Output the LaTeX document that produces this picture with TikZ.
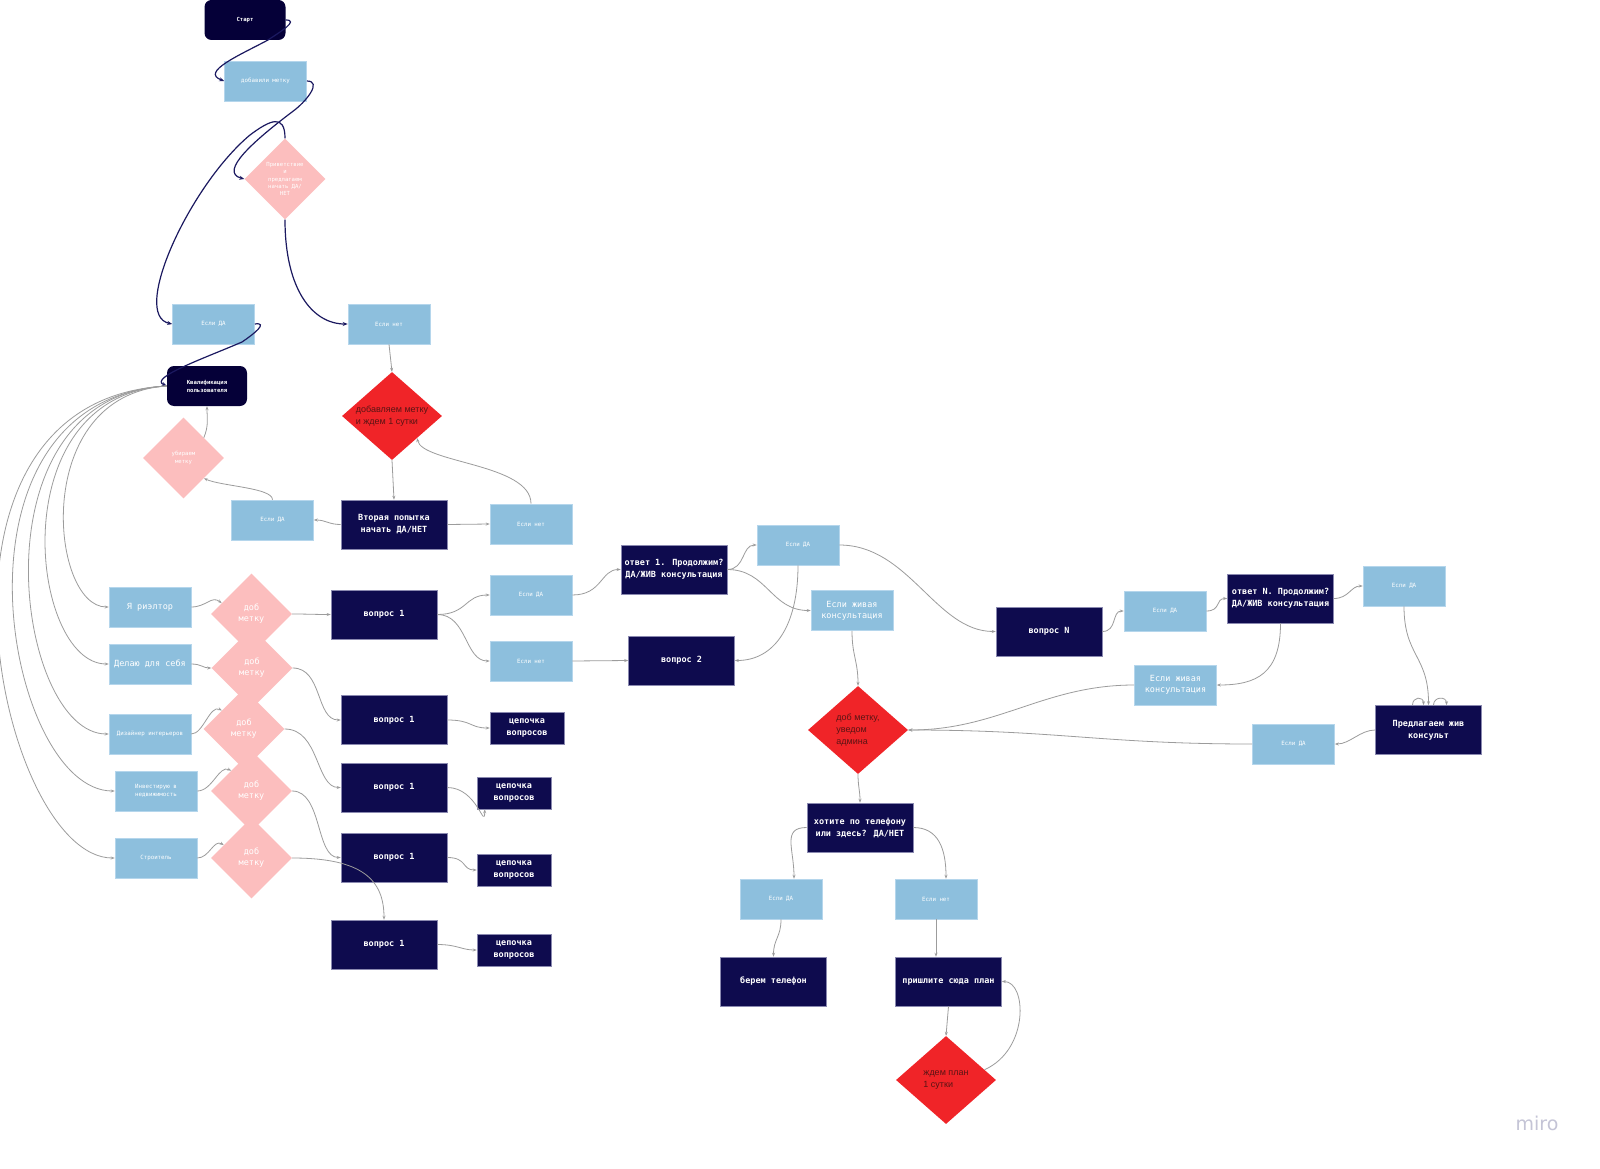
\documentclass[tikz,border=0pt]{standalone}
\usepackage{fontspec}
\newfontfamily\miromono{DejaVu Sans Mono}
\newfontfamily\mirosans{Liberation Sans}
\newfontfamily\logofont{DejaVu Sans}
\usetikzlibrary{shapes.geometric, arrows.meta}

\definecolor{navy}{HTML}{0E0B4E}
\definecolor{navyedge}{HTML}{8A89B0}
\definecolor{ink}{HTML}{050038}
\definecolor{sky}{HTML}{8DBFDD}
\definecolor{skyedge}{HTML}{B5D6EC}
\definecolor{blush}{HTML}{FCBEBE}
\definecolor{alarm}{HTML}{F02428}
\definecolor{redtext}{HTML}{5A1414}
\definecolor{wire}{HTML}{9C9C9C}
\definecolor{rope}{HTML}{1B1960}
\definecolor{logogray}{HTML}{C4C4D6}

\begin{document}
\begin{tikzpicture}[
    x=1pt, y=-1pt,
    darkbox/.style={rectangle, fill=navy, draw=navyedge, line width=0.6pt, text=white,
        font=\miromono\bfseries\fontsize{8.5}{12}\selectfont,
        minimum width=106pt, minimum height=49pt, align=center, inner sep=0pt},
    chainbox/.style={darkbox, minimum width=74pt, minimum height=32pt},
    roundbox/.style={rectangle, rounded corners=7pt, fill=ink, text=white,
        font=\miromono\bfseries\fontsize{5.6}{8}\selectfont,
        minimum width=81pt, minimum height=40pt, align=center, inner sep=0pt},
    skybox/.style={rectangle, fill=sky, draw=skyedge, line width=0.6pt, text=white,
        font=\miromono\fontsize{5.8}{8.5}\selectfont,
        minimum width=82pt, minimum height=40pt, align=center, inner sep=0pt},
    skybig/.style={skybox, font=\miromono\fontsize{8.5}{11}\selectfont},
    pinkdia/.style={diamond, fill=blush, text=white,
        font=\miromono\fontsize{8.5}{11}\selectfont,
        minimum width=81pt, minimum height=81pt, align=center, inner sep=0pt},
    pinksmall/.style={pinkdia, font=\miromono\fontsize{5.6}{7.2}\selectfont},
    reddia/.style={diamond, fill=alarm, text=redtext, shape aspect=1.14,
        font=\mirosans\fontsize{9}{12}\selectfont,
        minimum width=100pt, minimum height=88pt, align=left, inner sep=0pt},
    darkline/.style={-{Stealth[length=5pt,width=4pt]}, draw=rope, line width=1.2pt},
    link/.style={-{Stealth[length=4pt,width=3pt]}, draw=wire, line width=0.8pt}
]
\fill[white] (0,0) rectangle (1600,1169);
\useasboundingbox (0,0) rectangle (1600,1169);

% start block
\node[roundbox] (start) at (245,20) {Старт};
\node[skybox] (addtag) at (265.5,81) {добавили метку};
\node[pinksmall] (greet) at (285,179) {Приветствие\\и\\предлагаем\\начать ДА/\\НЕТ};
\node[skybox] (yes1) at (213.5,324) {Если ДА};
\node[skybox] (no1) at (389,324) {Если нет};
\node[roundbox, minimum width=80pt] (qualify) at (207,386) {Квалификация\\пользователя};
\node[pinksmall] (untag) at (183.5,458) {убираем\\метку};
\node[reddia] (wait1) at (392,416) {добавляем метку\\и ждем 1 сутки};
\node[skybox] (yes2) at (272.5,520) {Если ДА};
\node[darkbox] (retry) at (394,524.5) {Вторая попытка\\начать ДА/НЕТ};
\node[skybox] (no2) at (531,524) {Если нет};

% categories
\node[skybig] (realtor) at (150,607) {Я риэлтор};
\node[skybig] (self) at (150,664) {Делаю для себя};
\node[skybox] (designer) at (150,734) {Дизайнер интерьеров};
\node[skybox] (investor) at (156,791) {Инвестирую в\\недвижимость};
\node[skybox] (builder) at (156,858) {Строитель};
\node[pinkdia] (tag1) at (251.5,614) {доб\\метку};
\node[pinkdia] (tag2) at (252,668) {доб\\метку};
\node[pinkdia] (tag3) at (244,729) {доб\\метку};
\node[pinkdia] (tag4) at (251.5,791) {доб\\метку};
\node[pinkdia] (tag5) at (251.5,858) {доб\\метку};

% questions
\node[darkbox] (qa) at (384,614.5) {вопрос 1};
\node[darkbox] (qb) at (394,720) {вопрос 1};
\node[darkbox] (qc) at (394,787.5) {вопрос 1};
\node[darkbox] (qd) at (394,857.5) {вопрос 1};
\node[darkbox] (qe) at (384,944.5) {вопрос 1};
\node[chainbox] (chaina) at (527,728) {цепочка\\вопросов};
\node[chainbox] (chainb) at (514,793) {цепочка\\вопросов};
\node[chainbox] (chainc) at (514,870) {цепочка\\вопросов};
\node[chainbox] (chaind) at (514,950) {цепочка\\вопросов};
\node[skybox] (yes3) at (531,595) {Если ДА};
\node[skybox] (no3) at (531,661) {Если нет};
\node[darkbox] (ans1) at (674,569.5) {ответ 1. Продолжим?\\ДА/ЖИВ консультация};
\node[darkbox] (q2) at (681.5,660.5) {вопрос 2};
\node[skybox] (yes4) at (798,545) {Если ДА};
\node[skybig] (live1) at (852,610.5) {Если живая\\консультация};

% consultation branch
\node[reddia] (admin) at (858,730) {доб метку,\\уведом\\админа};
\node[darkbox] (phone) at (860,827.5) {хотите по телефону\\или здесь? ДА/НЕТ};
\node[skybox] (yes5) at (781,899) {Если ДА};
\node[skybox] (no5) at (936,899) {Если нет};
\node[darkbox] (takephone) at (773.5,981.5) {берем телефон};
\node[darkbox] (sendplan) at (948.5,981.5) {пришлите сюда план};
\node[reddia] (waitplan) at (946,1080) {ждем план\\1 сутки};

% question N
\node[darkbox] (qn) at (1049,631.5) {вопрос N};
\node[skybox] (yes6) at (1165,611) {Если ДА};
\node[darkbox] (ansn) at (1280.5,598.5) {ответ N. Продолжим?\\ДА/ЖИВ консультация};
\node[skybox] (yes7) at (1404,586) {Если ДА};
\node[skybig] (live2) at (1175.5,685) {Если живая\\консультация};
\node[darkbox] (offer) at (1428.5,730) {Предлагаем жив\\консульт};
\node[skybox] (yes8) at (1293.5,744) {Если ДА};

\node[text=logogray, font=\logofont\fontsize{19}{19}\selectfont] (logo) at (1537,1123) {miro};

% dark connectors
\draw[darkline] (start.east) .. controls +(14,0) and +(12,-8) .. (268,40)
    .. controls (240,55) and (200,72) .. (addtag.west);
\draw[darkline] (addtag.east) .. controls +(16,0) and +(14,-10) .. (292,112)
    .. controls (255,140) and (218,172) .. (greet.west);
\draw[darkline] (greet.north) .. controls +(0,-25) and +(20,-15) .. (250,135)
    .. controls (190,185) and (130,315) .. (yes1.west);
\draw[darkline] (greet.south) .. controls +(0,70) and +(-35,0) .. (no1.west);
\draw[darkline] (yes1.east) .. controls +(14,-2) and +(12,-8) .. (242,342)
    .. controls (205,358) and (148,378) .. (qualify.west);

% grey connectors
\draw[link] (no1.south) -- (wait1.north);
\draw[link] (wait1.south) -- (retry.north);
\draw[link] (retry.west) .. controls +(-12,0) and +(12,0) .. (yes2.east);
\draw[link] (yes2.north) .. controls +(0,-12) and +(18,8) .. (untag.south east);
\draw[link] (untag.north east) .. controls +(5,-12) and +(0,12) .. (qualify.south);
\draw[link] (retry.east) -- (no2.west);
\draw[link] (no2.north) .. controls +(0,-40) and +(5,25) .. (wait1.south east);

\draw[link] (qualify.west) .. controls (30,395) and (50,607) .. (realtor.west);
\draw[link] (qualify.west) .. controls (0,395) and (30,664) .. (self.west);
\draw[link] (qualify.west) .. controls (-30,395) and (15,734) .. (designer.west);
\draw[link] (qualify.west) .. controls (-65,400) and (5,791) .. (investor.west);
\draw[link] (qualify.west) .. controls (-100,400) and (0,858) .. (builder.west);

\draw[link] (realtor.east) .. controls +(15,0) and +(-10,-8) .. (tag1.160);
\draw[link] (self.east) .. controls +(10,0) and +(-8,0) .. (tag2.west);
\draw[link] (designer.east) .. controls +(12,0) and +(-12,-6) .. (tag3.140);
\draw[link] (investor.east) .. controls +(15,0) and +(-12,-6) .. (tag4.north west);
\draw[link] (builder.east) .. controls +(12,0) and +(-10,-6) .. (tag5.155);

\draw[link] (tag1.east) .. controls +(15,0) and +(-15,0) .. (qa.west);
\draw[link] (tag2.east) .. controls +(30,0) and +(-25,0) .. (qb.west);
\draw[link] (tag3.east) .. controls +(35,0) and +(-25,0) .. (qc.west);
\draw[link] (tag4.east) .. controls +(30,0) and +(-25,0) .. (qd.west);
\draw[link] (tag5.east) .. controls +(70,0) and +(0,-40) .. (qe.north);

\draw[link] (qb.east) .. controls +(25,0) and +(-20,0) .. (chaina.west);
\draw[link] (qc.east) .. controls +(30,0) and +(0,22) .. ([xshift=8pt]chainb.south west);
\draw[link] (qd.east) .. controls +(20,0) and +(-15,0) .. (chainc.west);
\draw[link] (qe.east) .. controls +(20,0) and +(-15,0) .. (chaind.west);

\draw[link] (qa.east) .. controls +(30,0) and +(-25,0) .. (yes3.west);
\draw[link] (qa.east) .. controls +(30,0) and +(-25,0) .. (no3.west);
\draw[link] (yes3.east) .. controls +(30,0) and +(-20,0) .. (ans1.west);
\draw[link] (no3.east) -- (q2.west);
\draw[link] (ans1.east) .. controls +(18,0) and +(-15,0) .. (yes4.west);
\draw[link] (ans1.east) .. controls +(40,0) and +(-40,0) .. (live1.west);
\draw[link] (yes4.south) .. controls +(0,60) and +(40,0) .. (q2.east);
\draw[link] (yes4.east) .. controls +(70,0) and +(-60,0) .. (qn.west);
\draw[link] (live1.south) .. controls +(0,25) and +(0,-25) .. (admin.north);

\draw[link] (qn.east) .. controls +(15,0) and +(-12,0) .. (yes6.west);
\draw[link] (yes6.east) .. controls +(15,0) and +(-12,0) .. (ansn.west);
\draw[link] (ansn.east) .. controls +(15,0) and +(-12,0) .. (yes7.west);
\draw[link] (ansn.south) .. controls +(0,50) and +(40,0) .. (live2.east);
\draw[link] (live2.west) .. controls +(-90,0) and +(90,0) .. (admin.east);
\draw[link] (yes7.south) .. controls +(0,50) and +(0,-50) .. (offer.north);
\draw[link] ([xshift=-16pt]offer.north) .. controls +(0,-9) and +(0,-9) .. ([xshift=-5pt]offer.north);
\draw[link] ([xshift=5pt]offer.north) .. controls +(0,-9) and +(0,-9) .. ([xshift=18pt]offer.north);
\draw[link] (offer.west) .. controls +(-15,0) and +(15,0) .. (yes8.east);
\draw[link] (yes8.west) .. controls +(-150,0) and +(150,0) .. (admin.east);

\draw[link] (admin.south) .. controls +(0,12) and +(0,-12) .. (phone.north);
\draw[link] (phone.west) .. controls +(-25,0) and +(0,-30) .. ([xshift=13pt]yes5.north);
\draw[link] (phone.east) .. controls +(25,0) and +(0,-30) .. ([xshift=10pt]no5.north);
\draw[link] (yes5.south) .. controls +(0,18) and +(0,-18) .. (takephone.north);
\draw[link] (no5.south) -- (no5.south |- sendplan.north);
\draw[link] (sendplan.south) -- (waitplan.north);
\draw[link] (waitplan.15) .. controls +(45,-20) and +(25,0) .. (sendplan.east);
\end{tikzpicture}
\end{document}
